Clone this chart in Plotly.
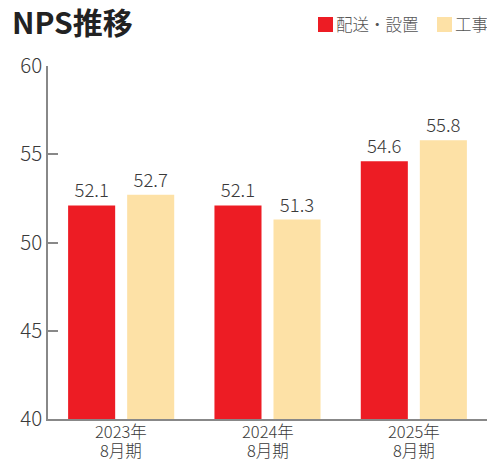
import plotly.graph_objects as go

years = ["2023年", "2024年", "2025年"]
periods = ["8月期", "8月期", "8月期"]
series_names = ["配送・設置", "工事"]
delivery = [52.1, 52.1, 54.6]
construction = [52.7, 51.3, 55.8]
y_ticks = [40, 45, 50, 55, 60]

RED = "#ED1C24"
YELLOW = "#FDE1A6"
FONT = "Noto Sans CJK JP"
TXT = "#3a3a3a"

# the page body has an 8px default margin; figure is sized to fit the window
W, H = 487, 454

fig = go.Figure()
for name, vals, col in [(series_names[0], delivery, RED), (series_names[1], construction, YELLOW)]:
    fig.add_trace(go.Bar(
        x=years, y=vals, name=name, marker=dict(color=col, line=dict(width=0)),
        text=[f"{v:.1f}" for v in vals], textposition="outside",
        textfont=dict(family=FONT, size=18.5, color=TXT, weight=300), cliponaxis=False,
        showlegend=False,
    ))

fig.update_layout(
    width=W, height=H,
    margin=dict(l=40, r=8, t=58, b=43),
    paper_bgcolor="white", plot_bgcolor="white",
    barmode="group", bargap=0.193, bargroupgap=0.203,
    font=dict(family=FONT, color=TXT),
    title=dict(text="<b>NPS推移</b>", x=4/W, xref="container", xanchor="left",
               y=1-15/H, yref="container", yanchor="middle", pad=dict(l=0, t=0),
               font=dict(family=FONT, size=30, color="#222")),
    xaxis=dict(showline=True, linecolor="#888", linewidth=1.5, ticks="", automargin=False,
               showticklabels=False, showgrid=False),
    yaxis=dict(range=[40, 60], tickvals=y_ticks, showline=True, linecolor="#888", linewidth=1.5,
               ticks="inside", ticklen=10, tickcolor="#888", tickwidth=1.5, automargin=False,
               tickfont=dict(family=FONT, size=20.5, color=TXT, weight=300), showgrid=False, zeroline=False),
)

# two-line category labels
for yr, p in zip(years, periods):
    fig.add_annotation(text=yr, x=yr, xref="x", yref="paper", y=(419 - 430.5) / 353,
                       yanchor="middle", showarrow=False, borderpad=0,
                       font=dict(family=FONT, size=16.5, color=TXT, weight=300))
    fig.add_annotation(text=p, x=yr, xref="x", yref="paper", y=(419 - 450) / 353,
                       yanchor="middle", showarrow=False, borderpad=0,
                       font=dict(family=FONT, size=16.5, color=TXT, weight=300))

# legend drawn as squares + labels (positions in page pixels, converted to paper coords)
legend_items = [(series_names[0], RED, 318), (series_names[1], YELLOW, 437)]
for name, col, px in legend_items:
    x0 = (px - 48) / 439
    x1 = (px + 15 - 48) / 439
    fig.add_shape(type="rect", xref="paper", yref="paper", x0=x0, x1=x1,
                  y0=(419 - 32) / 353, y1=(419 - 17) / 353,
                  fillcolor=col, line=dict(width=0))
    fig.add_annotation(text=name, xref="paper", yref="paper", x=(px + 16 - 48) / 439,
                       y=(419 - 24.5) / 353, xanchor="left", yanchor="middle", showarrow=False,
                       font=dict(family=FONT, size=16.5, color="#555", weight=300))

fig.write_html("out.html")
